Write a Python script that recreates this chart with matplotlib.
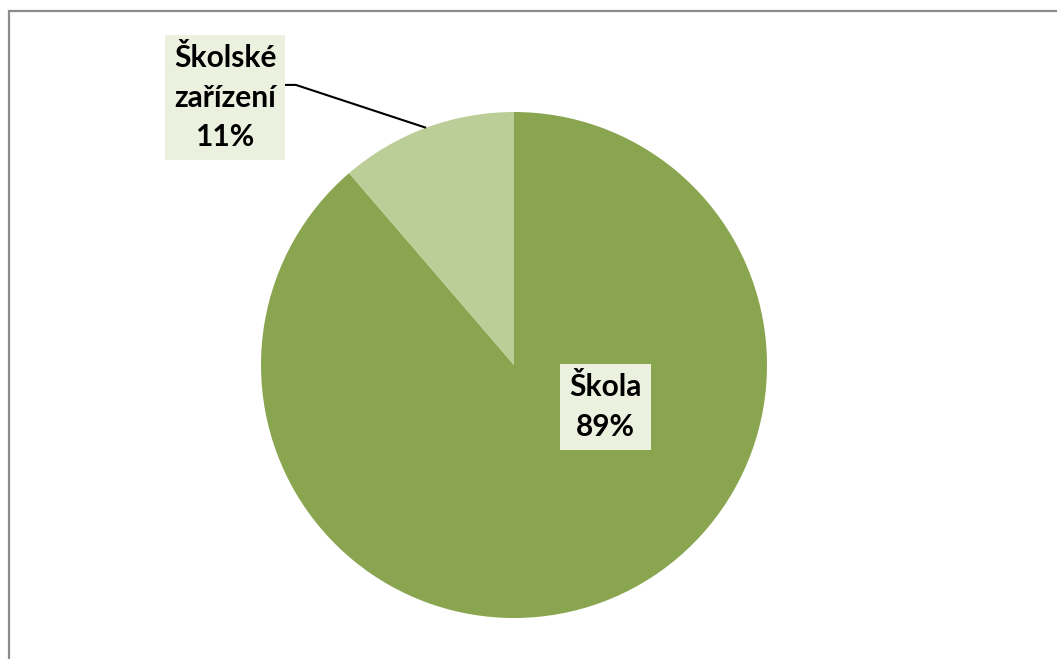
import numpy as np
import matplotlib
matplotlib.use("Agg")
import matplotlib.pyplot as plt
from matplotlib.patches import Rectangle

categories = ["Škola", "Školské zařízení"]
values = [88.7, 11.3]
label_texts = ["Škola\n89%", "Školské\nzařízení\n11%"]
colors = ["#8AA54F", "#BBCE98"]

W, H = 1057, 659
fig = plt.figure(figsize=(W / 100, H / 100), dpi=100)
fig.patch.set_facecolor("white")

# outer frame (extends beyond the right/bottom edges)
fig.patches.append(Rectangle((9 / W, -0.1), 1.2, 1 - 11 / H + 0.1, transform=fig.transFigure,
                             fill=False, edgecolor="#8C8C8C", linewidth=1.6))

cx, cy, r = 514, 365, 253
ax = fig.add_axes([(cx - r) / W, (H - cy - r) / H, 2 * r / W, 2 * r / H])
wedges, _ = ax.pie(values, colors=colors, startangle=90, counterclock=False, radius=1,
                   wedgeprops=dict(linewidth=0))
ax.set_xlim(-1, 1)
ax.set_ylim(-1, 1)
ax.set_aspect("equal")
ax.axis("off")

font = dict(family=["Lato", "DejaVu Sans"], fontweight="bold", fontsize=21.5, color="black")
box = dict(boxstyle="square,pad=0.3", facecolor="#EBF1DE", edgecolor="none")

# Škola label inside
ax.text(0.362, -0.166, label_texts[0], ha="center", va="center", linespacing=1.5,
        bbox=box, **font)

# Školské zařízení label outside with leader
w = wedges[1]
mid = np.deg2rad((w.theta1 + w.theta2) / 2)
tip = (np.cos(mid), np.sin(mid))
t = ax.text(-1.142, 1.057, label_texts[1], ha="center", va="center", linespacing=1.5,
            bbox=box, **font)
ax.plot([-0.905, -0.862, tip[0]], [1.107, 1.107, tip[1]], color="black", lw=1.5,
        clip_on=False, solid_capstyle="butt")

fig.savefig("out.png", dpi=100)
